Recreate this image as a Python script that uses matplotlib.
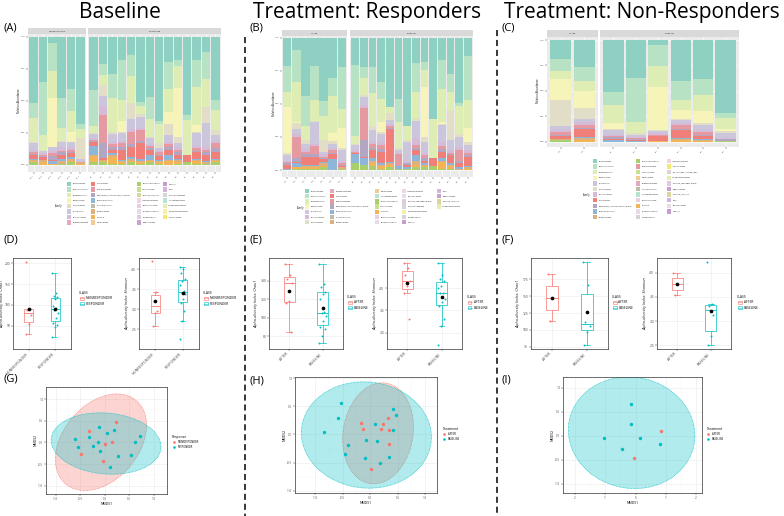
import numpy as np
import matplotlib.pyplot as plt
from matplotlib.patches import Rectangle, Polygon
from matplotlib.lines import Line2D
from matplotlib.ticker import FormatStrFormatter

plt.rcParams['font.family'] = ['Open Sans', 'DejaVu Sans']

W, H = 784, 516

# ---------------- stacked bar data (rows follow TOP_FAMILIES, top of stack first) ----------------
TOP_FAMILIES = ['Bacteroidaceae', 'Ruminococcaceae', 'Lachnospiraceae', 'Prevotellaceae',
                'Tannerellaceae', 'Rikenellaceae', 'Oscillospiraceae', 'Streptococcaceae',
                'Eubacterium_coprostanoligenes_group', 'Sutterellaceae', 'Enterobacteriaceae',
                'Barnesiellaceae', 'unculture', 'Desulfovibrionaceae']

a_nonresp = [
    [0.52, 0.35, 0.05, 0.48, 0.41, 0.68],
    [0.12, 0.42, 0.22, 0.23, 0.17, 0.04],
    [0.19, 0.12, 0.21, 0.10, 0.16, 0.07],
    [0.00, 0.00, 0.38, 0.00, 0.08, 0.00],
    [0.01, 0.00, 0.00, 0.01, 0.00, 0.16],
    [0.05, 0.02, 0.03, 0.04, 0.04, 0.02],
    [0.02, 0.01, 0.02, 0.03, 0.02, 0.01],
    [0.01, 0.01, 0.02, 0.01, 0.02, 0.00],
    [0.01, 0.01, 0.03, 0.02, 0.01, 0.00],
    [0.03, 0.02, 0.01, 0.03, 0.03, 0.00],
    [0.01, 0.00, 0.02, 0.02, 0.01, 0.00],
    [0.01, 0.02, 0.00, 0.02, 0.02, 0.01],
    [0.01, 0.02, 0.01, 0.00, 0.01, 0.01],
    [0.02, 0.00, 0.00, 0.01, 0.02, 0.00],
]
a_resp = [
    [.42, .21, .29, .18, .14, .51, .47, .66, .20, .18, .61, .18, .12, .49],
    [.28, .08, .19, .31, .17, .03, .17, .02, .21, .05, .04, .21, .21, .08],
    [.06, .08, .26, .17, .21, .06, .14, .15, .18, .17, .27, .30, .22, .16],
    [0, 0, 0, .08, 0, 0, 0, 0, .09, .38, 0, .05, 0, 0],
    [.01, .08, .02, .01, .12, .03, .01, .04, .09, .05, 0, .01, .12, .04],
    [.03, .08, .06, .06, .08, .08, .05, .02, .05, .03, 0, .10, .19, .04],
    [.01, .07, .02, .02, .02, .02, .01, .01, .02, .02, 0, .02, .02, .02],
    [.01, .21, .02, .03, .10, .08, .02, .02, .02, .02, 0, .02, .02, .04],
    [.01, .12, .02, .02, .02, .02, .01, .01, .02, .02, 0, .01, .02, .03],
    [.03, .01, .03, .08, .08, .12, .04, .03, .04, .03, .06, .05, .05, .05],
    [.07, 0, .01, .01, .01, .02, .04, .01, .04, .01, 0, .01, .01, .01],
    [.01, .01, .02, .01, .02, .01, .01, .01, .01, .02, 0, .01, .01, .01],
    [.05, .01, .05, .01, .01, .01, .01, .01, .03, .01, 0, .02, 0, .01],
    [.02, .02, .01, .01, .02, .01, .02, .01, 0, .01, .02, .01, .01, .02],
]
b_after = [
    [.21, .09, .44, .21, .48, .30, .22],
    [.20, .24, .23, .26, .11, .14, .32],
    [.11, .30, .10, .16, .18, .28, .14],
    [.35, .01, 0, 0, 0, .06, .15],
    [.02, .04, .03, .01, .09, .02, .02],
    [.04, .04, .04, .16, .02, .03, .08],
    [.01, .02, .02, .02, .02, .02, .02],
    [.01, .16, .02, .06, .01, .02, .01],
    [.01, .03, .02, .02, .01, .01, .01],
    [.03, .01, .06, .06, .02, .04, .01],
    [.01, .03, .01, .01, .01, .08, 0],
    [0, 0, .01, .01, .02, 0, .01],
    [0, .01, .01, .01, .01, 0, 0],
    [0, .01, .01, .01, .02, 0, .01],
]
b_baseline = [
    [.21, .22, .22, .33, .52, .46, .67, .19, .18, .61, .17, .27, .49, .14],
    [.54, .08, .20, .13, 0, .18, 0, .22, .06, 0, .22, .14, .02, .33],
    [.06, .13, .25, .18, .05, .19, .10, .20, .13, .30, .25, .14, .21, .21],
    [0, 0, 0, .07, 0, 0, 0, 0, .38, 0, .01, 0, 0, .11],
    [.01, .02, .03, .02, .05, .02, .02, .02, .04, 0, .01, .22, .02, .02],
    [.04, .06, .08, .06, .03, .02, .14, .13, .08, 0, .13, .08, .08, .04],
    [.01, .02, .02, .02, .02, .01, .02, .05, .02, 0, .03, .02, .02, .02],
    [.01, .24, .03, .03, .01, .09, 0, .02, .02, 0, .02, .01, .08, .02],
    [0, .13, .02, .02, .01, 0, .01, .02, .02, 0, .02, .01, .02, .01],
    [.01, .01, .06, .09, .25, 0, .02, .04, .02, .06, .05, .06, .03, .07],
    [.07, .05, .02, .01, .01, .02, .01, .04, .01, 0, .02, .01, .01, .01],
    [0, 0, .02, .01, .01, 0, 0, .03, .01, 0, .01, .01, .01, .01],
    [0, 0, .02, .02, .02, 0, 0, .02, .01, 0, .05, .02, 0, .01],
    [.05, .04, .03, .01, .02, .01, .01, .02, .02, .03, .01, .01, 0, 0],
]
c_after = [
    [.19, .27], [.11, .13], [.08, .10], [.21, .17], [.26, .11], [.04, .03], [.02, .03],
    [.02, .03], [.01, .01], [.03, .07], [0, .01], [.01, .02], [0, .02], [.02, 0],
]
c_baseline = [
    [.51, .37, .05, .40, .38, .72],
    [.13, .44, .21, .19, .16, .05],
    [.18, .11, .20, .10, .16, .11],
    [.06, 0, .43, .09, .12, .02],
    [.01, .01, .01, .01, .02, .02],
    [.04, .02, .02, .03, .05, .04],
    [.01, .01, .01, .02, .02, .01],
    [.01, .01, .01, .04, .02, 0],
    [.02, .01, 0, .01, .01, .02],
    [.01, .01, .05, .07, .03, 0],
    [.02, .01, 0, .01, .01, 0],
    [0, 0, 0, .01, .01, 0],
    [0, 0, .01, .02, .01, 0],
    [0, 0, 0, 0, 0, .01],
]

a_nonresp_samples = ['NR01', 'NR02', 'NR03', 'NR04', 'NR05', 'NR06']
a_resp_samples = ['R01', 'R02', 'R03', 'R04', 'R05', 'R06', 'R07', 'R08', 'R09', 'R10', 'R11', 'R12', 'R13', 'R14']
b_after_samples = ['A01', 'A02', 'A03', 'A04', 'A05', 'A06', 'A07']
b_baseline_samples = ['B01', 'B02', 'B03', 'B04', 'B05', 'B06', 'B07', 'B08', 'B09', 'B10', 'B11', 'B12', 'B13', 'B14']
c_after_samples = ['A01', 'A02']
c_baseline_samples = ['B01', 'B02', 'B03', 'B04', 'B05', 'B06']

# legend entries (column by column)
a_legend_cols = [
    ['Bacteroidaceae', 'Ruminococcaceae', 'Lachnospiraceae', 'Prevotellaceae', 'Tannerellaceae',
     'Rikenellaceae', 'Oscillospiraceae', 'Bifidobacteriaceae'],
    ['Sutterellaceae', 'Streptococcaceae', 'Eubacterium_coprostanoligenes_group', 'Enterobacteriaceae',
     'Coriobacteriaceae', 'Barnesiellaceae', 'unculture', 'Marinifilaceae'],
    ['Desulfovibrionaceae', 'Veillonellaceae', 'Clostridia_UCG_014', 'Anaerovoracaceae',
     'Butyricicoccaceae', 'Erysipelotrichaceae', 'Monoglobaceae', 'Eggerthellaceae'],
    ['Family_XI', 'RF39', 'Succinivibrionaceae', 'Christensenellaceae', 'Acidaminococcaceae',
     'Peptostreptococcaceae', 'Pasteurellaceae'],
]
b_legend_cols = [
    ['Bacteroidaceae', 'Ruminococcaceae', 'Lachnospiraceae', 'Prevotellaceae', 'Rikenellaceae',
     'Oscillospiraceae', 'Tannerellaceae'],
    ['Bifidobacteriaceae', 'Sutterellaceae', 'Streptococcaceae', 'Eubacterium_coprostanoligenes_group',
     'Enterobacteriaceae', 'Coriobacteriaceae', 'Barnesiellaceae'],
    ['Marinifilaceae', 'Christensenellaceae', 'Desulfovibrionaceae', 'Veillonellaceae', 'unculture',
     'Butyricicoccaceae', 'Erysipelotrichaceae'],
    ['Anaerovoracaceae', 'Lactobacillaceae', 'Clostridia_vadinBB60_group', 'Succinivibrionaceae',
     'Peptostreptococcaceae', 'Monoglobaceae', 'Family_XI'],
    ['RF39', 'Eggerthellaceae', 'Clostridia_UCG_014', 'Acidaminococcaceae'],
]
c_legend_cols = [
    ['Bacteroidaceae', 'Ruminococcaceae', 'Lachnospiraceae', 'Prevotellaceae', 'Rikenellaceae',
     'Tannerellaceae', 'Oscillospiraceae', 'Sutterellaceae', 'Eubacterium_coprostanoligenes_group',
     'Enterobacteriaceae', 'Barnesiellaceae'],
    ['Desulfovibrionaceae', 'Streptococcaceae', 'Veillonellaceae', 'Marinifilaceae', 'Bifidobacteriaceae',
     'Coriobacteriaceae', 'Christensenellaceae', 'Butyricicoccaceae', 'unculture', 'Erysipelotrichaceae',
     'Monoglobaceae'],
    ['Anaerovoracaceae', 'Pasteurellaceae', 'Oscillospirales_Incertae_Sedis', 'Acidaminococcaceae',
     'Clostridia_vadinBB60_group', 'Eggerthellaceae', 'Clostridia_UCG_014', 'RF39', 'Lactobacillaceae',
     'Family_XI'],
]

FAMILY_COLORS = {
    'Bacteroidaceae': '#8ED1C3', 'Ruminococcaceae': '#B7E2C4', 'Lachnospiraceae': '#DDEDB3',
    'Prevotellaceae': '#F6F4B8', 'Tannerellaceae': '#E2DDC6', 'Rikenellaceae': '#CCC6DC',
    'Oscillospiraceae': '#D5BBD8', 'Bifidobacteriaceae': '#E4A9BE', 'Sutterellaceae': '#EF7F78',
    'Streptococcaceae': '#E59AA2', 'Eubacterium_coprostanoligenes_group': '#B3A6C2',
    'Enterobacteriaceae': '#8EB6D8', 'Coriobacteriaceae': '#BFBBA9', 'Barnesiellaceae': '#DDB07D',
    'unculture': '#F2B457', 'Marinifilaceae': '#F1CB93', 'Desulfovibrionaceae': '#A9CF6C',
    'Veillonellaceae': '#C9DF8D', 'Clostridia_UCG_014': '#D8D89C', 'Anaerovoracaceae': '#F2D3E0',
    'Butyricicoccaceae': '#E9CFE2', 'Erysipelotrichaceae': '#E7DCE5', 'Monoglobaceae': '#D6D1D9',
    'Eggerthellaceae': '#C9A3D0', 'Family_XI': '#C69BD0', 'RF39': '#D2B5D8',
    'Succinivibrionaceae': '#D8D4DE', 'Christensenellaceae': '#B8E3CF', 'Acidaminococcaceae': '#E4EDB5',
    'Peptostreptococcaceae': '#F5EFA8', 'Pasteurellaceae': '#F6E772', 'Lactobacillaceae': '#E6DDE8',
    'Clostridia_vadinBB60_group': '#DCCBE0', 'Oscillospirales_Incertae_Sedis': '#DAD6CF',
}

# ---------------- alpha diversity ----------------
d_chao_nonresp = [202, 91, 89, 75, 55, 31]
d_chao_resp = [176, 128, 122, 118, 115, 98, 92, 88, 80, 70, 58, 52, 48, 24]
d_shannon_nonresp = [4.2, 3.42, 3.2, 2.95, 2.9, 2.57]
d_shannon_resp = [4.05, 4.0, 3.9, 3.75, 3.7, 3.6, 3.45, 3.4, 3.38, 3.25, 3.15, 2.95, 2.69, 2.24]
e_chao_after = [158, 146, 142, 138, 118, 116, 85]
e_chao_baseline = [158, 137, 133, 128, 126, 120, 106, 105, 102, 97, 90, 88, 80, 72]
e_shannon_after = [4.55, 4.45, 4.3, 4.16, 4.05, 3.9, 3.3]
e_shannon_baseline = [4.55, 4.3, 4.2, 4.15, 4.05, 4.0, 3.9, 3.88, 3.75, 3.68, 3.6, 3.3, 3.16, 2.74]
f_chao_after = [182, 147, 113]
f_chao_baseline = [200, 166, 112, 106, 97, 78]
f_shannon_after = [4.0, 3.77, 3.54]
f_shannon_baseline = [4.22, 3.35, 3.31, 3.13, 2.69, 2.5]

# ---------------- NMDS ----------------
g_nonresp_x = [0.22, -0.33, -0.48, 0.01, 0.15, -0.04]
g_nonresp_y = [0.47, 0.27, -0.26, -0.03, 0.00, -0.42]
g_resp_x = [-0.61, -0.54, -0.33, -0.25, -0.14, -0.11, -0.10, 0.04, 0.18, 0.10, 0.27, 0.54, 0.61, 0.71]
g_resp_y = [0.09, -0.11, 0.12, -0.09, 0.00, 0.35, -0.20, 0.22, 0.29, -0.57, -0.31, -0.29, 0.00, 0.16]
h_after_x = [-0.16, -0.13, 0.24, 0.19, 0.32, 0.35, 0.34, 0.01]
h_after_y = [0.20, 0.10, 0.19, 0.09, 0.29, 0.08, -0.17, -0.62]
h_base_x = [-0.54, -0.58, -0.84, -0.41, -0.46, -0.07, -0.10, 0.09, 0.13, 0.42, 0.41, 0.47, 0.35, 0.18]
h_base_y = [0.55, 0.30, 0.04, -0.19, -0.35, -0.09, -0.42, 0.18, -0.12, 0.08, 0.45, 0.34, -0.40, -0.51]
i_after_x = [0.84, -0.05]
i_after_y = [0.09, -0.47]
i_base_x = [-0.14, -0.14, -1.03, 0.16, -0.45, 0.82]
i_base_y = [0.66, 0.25, -0.05, -0.05, -0.27, -0.17]

RED, CYAN = '#F8766D', '#00BFC4'

fig = plt.figure(figsize=(7.84, 5.16), dpi=100)


def fx(x):
    return x / W


def fy(y):
    return 1 - y / H


def px_axes(x0, y0, x1, y1):
    return fig.add_axes([x0 / W, 1 - y1 / H, (x1 - x0) / W, (y1 - y0) / H])


def bar_facet(x0, x1, y0, y1, abund, samples, ylim, strip, strip_h, show_y):
    ax = px_axes(x0, y0, x1, y1)
    arr = np.array(abund, dtype=float)
    arr = arr / arr.sum(axis=0)
    n = arr.shape[1]
    xs = np.arange(1, n + 1)
    bottom = np.zeros(n)
    for fam, row in reversed(list(zip(TOP_FAMILIES, arr))):
        ax.bar(xs, row, bottom=bottom, width=0.9, color=FAMILY_COLORS[fam], linewidth=0, zorder=2)
        bottom += row
    ax.set_facecolor('#EBEBEB')
    ax.set_xlim(0.4, n + 0.6)
    ax.set_ylim(*ylim)
    ax.set_yticks([0, 0.25, 0.5, 0.75, 1.0])
    ax.set_yticks([0.125, 0.375, 0.625, 0.875], minor=True)
    ax.grid(True, which='major', color='white', lw=0.4)
    ax.grid(True, which='minor', axis='y', color='white', lw=0.2)
    ax.set_axisbelow(True)
    for s in ax.spines.values():
        s.set_visible(False)
    ax.set_xticks(xs)
    ax.set_xticklabels(samples, rotation=45, ha='right', fontsize=1.4, color='#4D4D4D')
    ax.tick_params(axis='both', length=1.2, width=0.3, color='#333333', pad=0.8)
    if show_y:
        ax.set_yticklabels(['0.00', '0.25', '0.50', '0.75', '1.00'], fontsize=1.6, color='#4D4D4D')
    else:
        ax.tick_params(axis='y', which='both', left=False, labelleft=False)
    ax.tick_params(axis='y', which='minor', left=False)
    sax = px_axes(x0, y0 - strip_h, x1, y0)
    sax.set_facecolor('#D9D9D9')
    sax.set_xticks([])
    sax.set_yticks([])
    for s in sax.spines.values():
        s.set_visible(False)
    sax.text(0.5, 0.5, strip, ha='center', va='center', fontsize=1.5, color='#1A1A1A',
             transform=sax.transAxes)
    return ax


def family_legend(cols_x, y_top, row_h, columns, title_xy):
    for cx, names in zip(cols_x, columns):
        for r, name in enumerate(names):
            yy = y_top + r * row_h
            fig.add_artist(Rectangle((fx(cx), fy(yy + 2.2)), 4.2 / W, 4.4 / H,
                                     transform=fig.transFigure, color=FAMILY_COLORS[name], lw=0))
            fig.text(fx(cx + 5.5), fy(yy), name, fontsize=1.35, va='center', ha='left', color='#1A1A1A')
    fig.text(fx(title_xy[0]), fy(title_xy[1]), 'Family', fontsize=1.8, va='center', ha='left')


def box_panel(x0, y0, x1, y1, groups, names, ylim, yticks, ylabel, fmt, ylabel_x):
    ax = px_axes(x0, y0, x1, y1)
    for i, (vals, col) in enumerate(zip(groups, [RED, CYAN])):
        pos = i + 1
        ax.boxplot([vals], positions=[pos], widths=0.33, patch_artist=True, showfliers=False,
                   whis=1.5, capwidths=0.16,
                   boxprops=dict(facecolor='white', edgecolor=col, linewidth=0.5),
                   medianprops=dict(color=col, linewidth=0.6),
                   whiskerprops=dict(color=col, linewidth=0.5),
                   capprops=dict(color=col, linewidth=0.5))
        n = len(vals)
        jit = ((np.arange(n) * 0.618) % 1 - 0.5) * 0.22
        ax.scatter(pos + jit, vals, s=2.0, color=col, linewidths=0, zorder=4)
        ax.scatter([pos], [np.mean(vals)], s=7, color='black', linewidths=0, zorder=5)
    ax.set_xlim(0.4, 2.6)
    ax.set_ylim(*ylim)
    ax.set_yticks(yticks)
    ax.yaxis.set_major_formatter(FormatStrFormatter(fmt))
    ax.set_xticks([1, 2])
    ax.set_xticklabels(names, rotation=45, ha='right', fontsize=2.6, color='#4D4D4D')
    ax.tick_params(axis='y', labelsize=2.4, labelcolor='#4D4D4D')
    ax.tick_params(axis='both', length=1.3, width=0.3, color='#333333', pad=0.8)
    ax.grid(True, color='#EBEBEB', lw=0.4)
    ax.set_axisbelow(True)
    for s in ax.spines.values():
        s.set_color('#333333')
        s.set_linewidth(0.5)
    fig.text(fx(ylabel_x), fy((y0 + y1) / 2), ylabel, rotation=90, fontsize=2.8, ha='center',
             va='center', style='italic', color='#1A1A1A')
    return ax


def box_legend(x, y, labels):
    fig.text(fx(x), fy(y), 'CLASS', fontsize=2.4, va='center')
    for i, (lab, col) in enumerate(zip(labels, [RED, CYAN])):
        yy = y + 5.3 * (i + 1)
        fig.add_artist(Rectangle((fx(x + 0.5), fy(yy + 1.6)), 4 / W, 3.2 / H,
                                 transform=fig.transFigure, fill=False, edgecolor=col, lw=0.4))
        fig.add_artist(Line2D([fx(x + 0.5), fx(x + 4.5)], [fy(yy), fy(yy)],
                              transform=fig.transFigure, color=col, lw=0.4))
        fig.text(fx(x + 6.5), fy(yy), lab, fontsize=2.3, va='center')


def f_quantile_2(p, d2):
    # quantile of the F(2, d2) distribution, closed form
    return d2 / 2.0 * ((1 - p) ** (-2.0 / d2) - 1)


def ellipse_xy(xs, ys, level=0.95, segments=51):
    pts = np.column_stack([xs, ys])
    n = len(pts)
    center = pts.mean(axis=0)
    shape = np.cov(pts.T)
    radius = np.sqrt(2 * f_quantile_2(level, n - 1))
    theta = np.linspace(0, 2 * np.pi, segments)
    circle = np.column_stack([np.cos(theta), np.sin(theta)])
    chol = np.linalg.cholesky(shape).T
    return center + radius * circle @ chol


def nmds_panel(x0, y0, x1, y1, groups, xlim, ylim, xticks, yticks, xfmt):
    ax = px_axes(x0, y0, x1, y1)
    for gx, gy, col in groups:
        if len(gx) >= 3:
            e = ellipse_xy(gx, gy)
            ax.add_patch(Polygon(e, closed=True, facecolor=col, alpha=0.3, lw=0, zorder=2))
            ax.add_patch(Polygon(e, closed=True, fill=False, edgecolor=col, lw=0.5,
                                 ls=(0, (1, 1)), zorder=2))
    for gx, gy, col in groups:
        ax.scatter(gx, gy, s=6, color=col, linewidths=0, zorder=4)
    ax.set_xlim(*xlim)
    ax.set_ylim(*ylim)
    ax.set_xticks(xticks)
    ax.set_yticks(yticks)
    ax.set_xticks([(a + b) / 2 for a, b in zip(xticks[:-1], xticks[1:])], minor=True)
    ax.set_yticks([(a + b) / 2 for a, b in zip(yticks[:-1], yticks[1:])], minor=True)
    ax.xaxis.set_major_formatter(FormatStrFormatter(xfmt))
    ax.yaxis.set_major_formatter(FormatStrFormatter('%.1f'))
    ax.grid(True, which='major', color='#EBEBEB', lw=0.4)
    ax.grid(True, which='minor', color='#F4F4F4', lw=0.25)
    ax.set_axisbelow(True)
    ax.tick_params(axis='both', labelsize=2.2, labelcolor='#4D4D4D', length=1.3, width=0.3,
                   color='#333333', pad=0.6)
    ax.tick_params(which='minor', length=0)
    for s in ax.spines.values():
        s.set_color('#333333')
        s.set_linewidth(0.5)
    fig.text(fx((x0 + x1) / 2), fy(y1 + 10), 'NMDS1', fontsize=2.4, ha='center', va='center')
    fig.text(fx(x0 - 10), fy((y0 + y1) / 2), 'NMDS2', fontsize=2.4, rotation=90, ha='center',
             va='center')
    return ax


def dot_legend(x, y, title, labels):
    fig.text(fx(x), fy(y), title, fontsize=2.4, va='center')
    for i, (lab, col) in enumerate(zip(labels, [RED, CYAN])):
        yy = y + 5.2 * (i + 1)
        fig.add_artist(Line2D([fx(x + 2)], [fy(yy)], marker='o', ms=1.9, mew=0, color=col,
                              transform=fig.transFigure))
        fig.text(fx(x + 5.5), fy(yy), lab, fontsize=2.0, va='center')


# ---------------- titles, labels, separators ----------------
fig.text(fx(120), fy(18), 'Baseline', fontsize=15, ha='center', va='baseline')
fig.text(fx(367), fy(18), 'Treatment: Responders', fontsize=15, ha='center', va='baseline')
fig.text(fx(642), fy(18), 'Treatment: Non-Responders', fontsize=15, ha='center', va='baseline')
for lab, x, y in [('(A)', 3, 28), ('(B)', 249, 28), ('(C)', 501, 28),
                  ('(D)', 3, 240), ('(E)', 249, 240), ('(F)', 501, 240),
                  ('(G)', 3, 379), ('(H)', 249, 381), ('(I)', 501, 380)]:
    fig.text(fx(x), fy(y), lab, fontsize=8, ha='left', va='center')
fig.add_artist(Line2D([fx(245)] * 2, [fy(37), fy(516)], color='black', lw=1.1, ls=(0, (4, 2.5))))
fig.add_artist(Line2D([fx(497)] * 2, [fy(30), fy(516)], color='black', lw=1.1, ls=(0, (4, 2.5))))

# ---------------- (A) (B) (C) stacked bars ----------------
bar_facet(28, 86, 34, 172, a_nonresp, a_nonresp_samples, (-0.055, 1.021), 'NONRESPONDER', 6, True)
bar_facet(88, 221, 34, 172, a_resp, a_resp_samples, (-0.055, 1.021), 'RESPONDER', 6, False)
fig.text(fx(19), fy(101), 'Relative Abundance', rotation=90, fontsize=1.9, ha='center', va='center')
family_legend([67, 91, 137, 163], 184, 5.5, a_legend_cols, (55, 206))

bar_facet(282, 347, 36, 177, b_after, b_after_samples, (-0.053, 1.015), 'AFTER', 6, True)
bar_facet(350, 473, 36, 177, b_baseline, b_baseline_samples, (-0.053, 1.015), 'BASELINE', 6, False)
fig.text(fx(274), fy(104), 'Relative Abundance', rotation=90, fontsize=1.9, ha='center', va='center')
family_legend([305, 330, 375, 402, 437], 191, 5.2, b_legend_cols, (297, 208))

bar_facet(547, 598, 37, 147, c_after, c_after_samples, (-0.053, 1.03), 'AFTER', 7, True)
bar_facet(600, 739, 37, 147, c_baseline, c_baseline_samples, (-0.053, 1.03), 'BASELINE', 7, False)
fig.text(fx(538), fy(91), 'Relative Abundance', rotation=90, fontsize=1.9, ha='center', va='center')
family_legend([593, 636, 667], 161, 5.6, c_legend_cols, (583, 195))

# ---------------- (D) (E) (F) alpha diversity ----------------
box_panel(13, 258, 71, 349, [d_chao_nonresp, d_chao_resp], ['NONRESPONDER', 'RESPONDER'],
          (-5, 212), [50, 100, 150, 200], 'Alpha-diversity Index: Chao1', '%d', 2.2)
box_legend(79, 293, ['NONRESPONDER', 'RESPONDER'])
box_panel(139, 258, 199, 349, [d_shannon_nonresp, d_shannon_resp], ['NONRESPONDER', 'RESPONDER'],
          (2.0, 4.28), [2.5, 3.0, 3.5, 4.0], 'Alpha-diversity Index: Shannon', '%.1f', 127)
box_legend(203, 293, ['NONRESPONDER', 'RESPONDER'])

box_panel(269, 258, 343, 349, [e_chao_after, e_chao_baseline], ['AFTER', 'BASELINE'],
          (66, 165), [80, 100, 120, 140], 'Alpha-diversity Index: Chao1', '%d', 256)
box_legend(347, 297, ['AFTER', 'BASELINE'])
box_panel(387, 258, 462, 349, [e_shannon_after, e_shannon_baseline], ['AFTER', 'BASELINE'],
          (2.64, 4.67), [3.0, 3.5, 4.0], 'Alpha-diversity Index: Shannon', '%.1f', 375)
box_legend(467, 297, ['AFTER', 'BASELINE'])

box_panel(531, 258, 608, 349, [f_chao_after, f_chao_baseline], ['AFTER', 'BASELINE'],
          (72, 206), [75, 100, 125, 150, 175], 'Alpha-diversity Index: Chao1', '%d', 518)
box_legend(612, 297, ['AFTER', 'BASELINE'])
box_panel(657, 258, 731, 349, [f_shannon_after, f_shannon_baseline], ['AFTER', 'BASELINE'],
          (2.42, 4.31), [2.5, 3.0, 3.5, 4.0], 'Alpha-diversity Index: Shannon', '%.1f', 645)
box_legend(737, 297, ['AFTER', 'BASELINE'])

# ---------------- (G) (H) (I) NMDS ----------------
ticks_1 = [-1.0, -0.5, 0.0, 0.5, 1.0]
nmds_panel(46, 387, 167, 494, [(g_nonresp_x, g_nonresp_y, RED), (g_resp_x, g_resp_y, CYAN)],
           (-1.2, 1.27), (-1.19, 1.28), ticks_1, ticks_1, '%.1f')
dot_legend(172, 437, 'Response', ['NONRESPONDER', 'RESPONDER'])

nmds_panel(295, 377, 437, 493, [(h_after_x, h_after_y, RED), (h_base_x, h_base_y, CYAN)],
           (-1.37, 1.22), (-1.04, 1.02), ticks_1, ticks_1, '%.1f')
dot_legend(442, 429, 'Treatment', ['AFTER', 'BASELINE'])

nmds_panel(563, 377, 702, 493, [(i_after_x, i_after_y, RED), (i_base_x, i_base_y, CYAN)],
           (-2.4, 2.2), (-1.19, 1.22), [-2, -1, 0, 1, 2], ticks_1, '%d')
dot_legend(706, 429, 'Treatment', ['AFTER', 'BASELINE'])

fig.savefig('out.png', dpi=100)
